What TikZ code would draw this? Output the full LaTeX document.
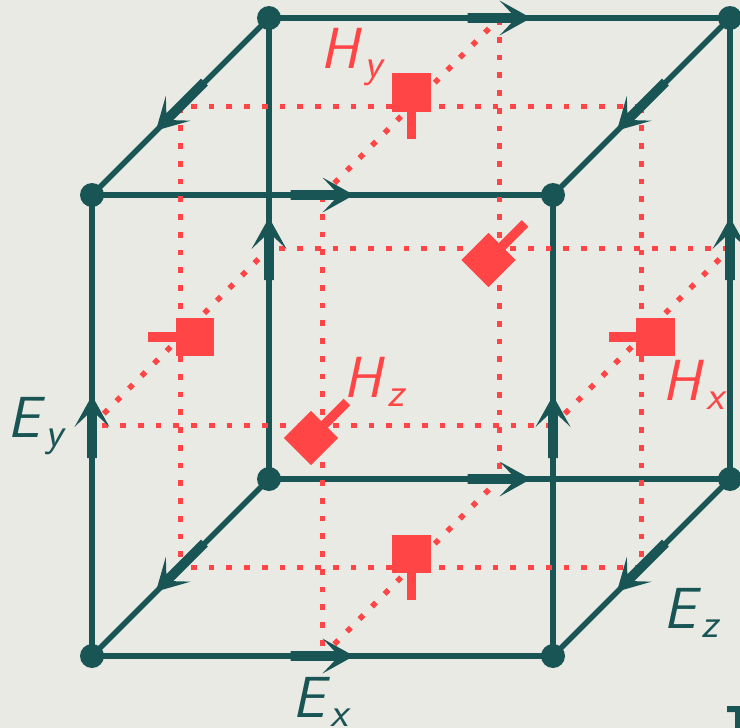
\documentclass[tikz,border=0pt]{standalone}
\usepackage{fontspec}
\setsansfont{Latin Modern Sans}
\definecolor{bgc}{HTML}{E9EAE4}
\definecolor{dark}{HTML}{1A5555}
\definecolor{redc}{HTML}{FF4545}
\newcommand{\lbl}[3][9.5]{{\fontsize{58}{58}\selectfont\sffamily\slshape #2\kern5.5pt\raisebox{-#1pt}{\fontsize{41}{41}\selectfont #3}}}
\newcommand{\efld}[4]{\fill[dark,shift={(#1,#2)},rotate=#3] (1.5,0)--(-30,17.5)--(-18,4.8)--(-#4,4.8)--(-#4,-4.8)--(-18,-4.8)--(-30,-17.5)--cycle;}
\tikzset{
  x=1pt,y=-1pt,
  vertex/.style={circle,fill=dark,inner sep=0pt,minimum size=24pt},
  edge/.style={draw=dark,line width=5.4pt},
  straightdots/.style={draw=redc,line width=5.6pt,dash pattern=on 5.6pt off 12.15pt,dash phase=7.3pt},
  diagdots/.style={draw=redc,line width=5.6pt,dash pattern=on 5.6pt off 12.15pt,dash phase=1pt},
  hbox/.style={rectangle,fill=redc,inner sep=0pt,minimum size=38.5pt},
  hstem/.style={draw=redc,line width=9.5pt},
  tlabel/.style={inner sep=0pt,anchor=base west,text=dark},
  hlabel/.style={inner sep=0pt,anchor=base west,text=redc}
}
\begin{document}
\begin{tikzpicture}
\useasboundingbox (0,0) rectangle (740,728);
\fill[bgc] (0,0) rectangle (740,728);
\clip (0,0) rectangle (740,728);
% vertices
\coordinate (pa) at (92,195); \coordinate (pb) at (553,195);
\coordinate (pc) at (92,656); \coordinate (pd) at (553,656);
\coordinate (pe) at (269,18); \coordinate (pf) at (730,18);
\coordinate (pg) at (269,479); \coordinate (ph) at (730,479);
% edges
\draw[edge] (pa)--(pb); \draw[edge] (pc)--(pd); \draw[edge] (pa)--(pc); \draw[edge] (pb)--(pd);
\draw[edge] (pe)--(pf); \draw[edge] (pg)--(ph); \draw[edge] (pe)--(pg); \draw[edge] (pf)--(ph);
\draw[edge] (pe)--(pa); \draw[edge] (pf)--(pb); \draw[edge] (pg)--(pc); \draw[edge] (ph)--(pd);
% dotted lattice
\coordinate (m1) at (180.5,106.5); \coordinate (m2) at (641.5,106.5);
\coordinate (m3) at (180.5,567.5); \coordinate (m4) at (641.5,567.5);
\coordinate (t1) at (322.5,195); \coordinate (t2) at (499.5,18);
\coordinate (b1) at (322.5,656); \coordinate (b2) at (499.5,479);
\coordinate (l1) at (92,425.5); \coordinate (l2) at (269,248.5);
\coordinate (r1) at (553,425.5); \coordinate (r2) at (730,248.5);
\draw[straightdots] (m1)--(m2); \draw[straightdots] (m3)--(m4);
\draw[straightdots] (m3)--(m1); \draw[straightdots] (m4)--(m2);
\draw[straightdots] (b1)--(t1); \draw[straightdots] (b2)--(t2);
\draw[straightdots] (l1)--(r1); \draw[straightdots] (l2)--(r2);
\draw[diagdots] (t1)--(t2); \draw[diagdots] (b1)--(b2);
\draw[diagdots] (l1)--(l2); \draw[diagdots] (r1)--(r2);
% E arrows
\efld{352.5}{195}{0}{62} \efld{352.5}{656}{0}{62}
\efld{529.5}{18}{0}{62} \efld{529.5}{479}{0}{62}
\efld{92}{397}{90}{61} \efld{553}{397}{90}{61}
\efld{269}{219}{90}{61} \efld{730}{219}{90}{61}
\efld{157}{590.5}{225}{67} \efld{618}{590.5}{225}{67}
\efld{157}{129.5}{225}{67} \efld{618}{129.5}{225}{67}
% vertex dots
\node[vertex] (va) at (pa) {}; \node[vertex] (vb) at (pb) {};
\node[vertex] (vc) at (pc) {}; \node[vertex] (vd) at (pd) {};
\node[vertex] (ve) at (pe) {}; \node[vertex] (vf) at (pf) {};
\node[vertex] (vg) at (pg) {}; \node[vertex] (vh) at (ph) {};
% H markers
\coordinate (s1) at (411.5,139); \coordinate (s2) at (411.5,600);
\coordinate (s3) at (148,337); \coordinate (s4) at (609,337);
\coordinate (s5) at (347,402); \coordinate (s6) at (525,223.5);
\node[hbox] (h1) at (411.5,92.5) {}; \draw[hstem] (h1.center)--(s1);
\node[hbox] (h2) at (411.5,554) {}; \draw[hstem] (h2.center)--(s2);
\node[hbox] (h3) at (195,337) {}; \draw[hstem] (h3.center)--(s3);
\node[hbox] (h4) at (655.5,337) {}; \draw[hstem] (h4.center)--(s4);
\node[hbox,rotate=45] (h5) at (311,438) {}; \draw[hstem] (h5.center)--(s5);
\node[hbox,rotate=45] (h6) at (488.5,260) {}; \draw[hstem] (h6.center)--(s6);
% labels
\node[tlabel] (ey) at (7,437) {\lbl{E}{y}};
\node[tlabel] (ex) at (292,717) {\lbl{E}{x}};
\node[tlabel] (ez) at (663,628) {\lbl{E}{z}};
\node[hlabel] (ly) at (320.5,68) {\lbl{H}{y}};
\node[hlabel] (lz) at (343.5,397) {\lbl{H}{z}};
\node[hlabel] (lx) at (662.5,400) {\lbl{H}{x}};
% clipped fragment at the corner
\fill[dark] (727,706)--(740,706)--(740,728)--(735,728)--(735,712)--(727,712)--cycle;
\end{tikzpicture}
\end{document}
